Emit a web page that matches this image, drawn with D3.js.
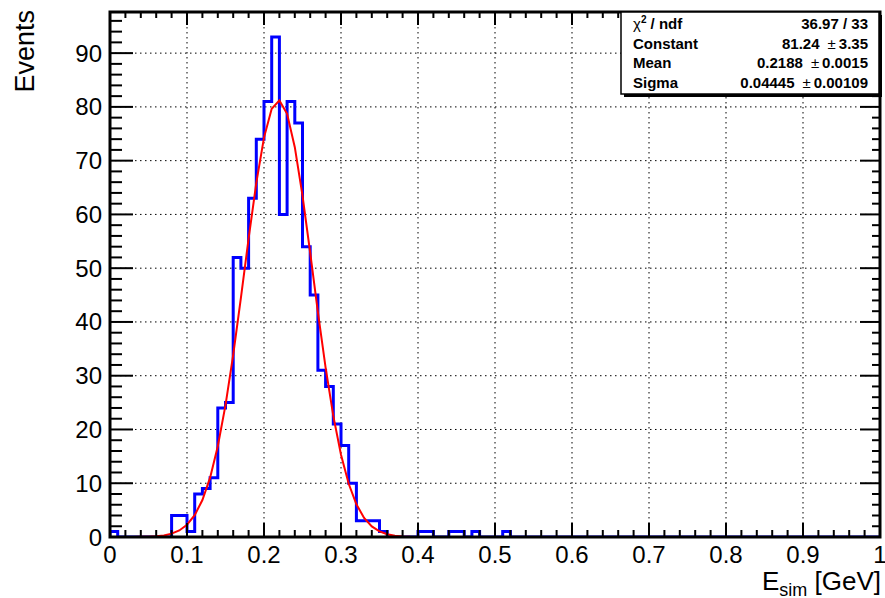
<!DOCTYPE html>
<html lang="en">
<head>
<meta charset="UTF-8">
<title>E_sim histogram</title>
<style>
  body { margin: 0; padding: 0; background: #fff; }
  svg { display: block; }
  text { font-family: "Liberation Sans", Arial, Helvetica, sans-serif; }
</style>
</head>
<body>
<script src="https://cdn.jsdelivr.net/npm/d3@7"></script>
<script>
  // histogram: 100 bins of 0.01 from 0 to 1
  const binEdgesLow = 0, binWidth = 0.01
  const counts = [
    1, 0, 0, 0, 0, 0, 0, 0, 4, 4,
    1, 8, 9, 11, 24, 25, 52, 50, 63, 74,
    81, 93, 60, 81, 77, 54, 45, 31, 28, 21,
    17, 10, 3, 3, 3, 1, 0, 0, 0, 0,
    1, 1, 0, 0, 1, 1, 0, 1, 0, 0,
    0, 1, 0, 0, 0, 0, 0, 0, 0, 0,
    0, 0, 0, 0, 0, 0, 0, 0, 0, 0,
    0, 0, 0, 0, 0, 0, 0, 0, 0, 0,
    0, 0, 0, 0, 0, 0, 0, 0, 0, 0,
    0, 0, 0, 0, 0, 0, 0, 0, 0, 0
  ]

  // gaussian fit result (stats box)
  const fitConstant = 81.24, fitMean = 0.2188, fitSigma = 0.04445
  const statsNames = ['χ2 / ndf', 'Constant', 'Mean', 'Sigma']
  const statsValues = ['36.97 / 33', '81.24', '0.2188', '0.04445']
  const statsErrors = [null, '3.35', '0.0015', '0.00109']

  const xTicks = [0, 0.1, 0.2, 0.3, 0.4, 0.5, 0.6, 0.7, 0.8, 0.9, 1]
  const yTicks = [0, 10, 20, 30, 40, 50, 60, 70, 80, 90]

  const width = 885, height = 598
  const pLeft = 110, pRight = 880, pTop = 12, pBottom = 537

  const svg = d3.select('body').append('svg')
    .attr('width', width).attr('height', height)

  const x = d3.scaleLinear().domain([0, 1]).range([pLeft, pRight])
  const y = d3.scaleLinear().domain([0, d3.max(counts) * 1.05]).range([pBottom, pTop])

  svg.append('clipPath').attr('id', 'clip')
    .append('rect').attr('x', pLeft).attr('y', pTop).attr('width', pRight - pLeft).attr('height', pBottom - pTop)

  // grid
  const grid = svg.append('g').attr('stroke', '#000').attr('stroke-width', 1).attr('stroke-dasharray', '1.5,3.5')
  grid.selectAll('.gx').data(xTicks.slice(1, -1)).enter().append('line')
    .attr('x1', d => x(d)).attr('x2', d => x(d)).attr('y1', pTop).attr('y2', pBottom)
  grid.selectAll('.gy').data(yTicks.slice(1)).enter().append('line')
    .attr('x1', pLeft).attr('x2', pRight).attr('y1', d => y(d)).attr('y2', d => y(d))

  // histogram outline
  const pts = []
  counts.forEach((c, i) => {
    const lo = binEdgesLow + i * binWidth
    pts.push([lo, c], [lo + binWidth, c])
  })
  pts.unshift([0, 0])
  pts.push([1, 0])
  svg.append('path')
    .attr('clip-path', 'url(#clip)')
    .attr('d', d3.line().x(d => x(d[0])).y(d => y(d[1]))(pts))
    .attr('fill', 'none').attr('stroke', '#0000ff').attr('stroke-width', 3)

  // fit curve (100 points, like TF1 default)
  const gaus = v => fitConstant * Math.exp(-0.5 * Math.pow((v - fitMean) / fitSigma, 2))
  const curve = d3.range(0, 101).map(i => [i / 100, gaus(i / 100)])
  svg.append('path')
    .attr('clip-path', 'url(#clip)')
    .attr('d', d3.line().x(d => x(d[0])).y(d => y(d[1]))(curve))
    .attr('fill', 'none').attr('stroke', '#ff0000').attr('stroke-width', 2)

  // axes with ticks on all four sides
  const xMinor = d3.range(0, 51).map(i => i * 0.02)
  const yMinor = d3.range(0, 49).map(i => i * 2)
  const ax = svg.append('g').attr('stroke', '#000')
  ax.selectAll('.bt').data(xMinor).enter().append('line')
    .attr('x1', d => x(d)).attr('x2', d => x(d))
    .attr('y1', pBottom).attr('y2', (d, i) => pBottom - (i % 5 === 0 ? 14 : 7)).attr('stroke-width', 2)
  ax.selectAll('.tt').data(xMinor).enter().append('line')
    .attr('x1', d => x(d)).attr('x2', d => x(d))
    .attr('y1', pTop).attr('y2', (d, i) => pTop + (i % 5 === 0 ? 13 : 6)).attr('stroke-width', 2)
  ax.selectAll('.lt').data(yMinor).enter().append('line')
    .attr('y1', d => y(d)).attr('y2', d => y(d))
    .attr('x1', pLeft).attr('x2', (d, i) => pLeft + (i % 5 === 0 ? 23 : 12)).attr('stroke-width', 2)
  ax.selectAll('.rt').data(yMinor).enter().append('line')
    .attr('y1', d => y(d)).attr('y2', d => y(d))
    .attr('x1', pRight).attr('x2', (d, i) => pRight - (i % 5 === 0 ? 20 : 8)).attr('stroke-width', 2)
  ax.append('rect').attr('x', pLeft).attr('y', pTop).attr('width', pRight - pLeft).attr('height', pBottom - pTop)
    .attr('fill', 'none').attr('stroke-width', 3)

  // tick labels
  svg.selectAll('.xl').data(xTicks).enter().append('text')
    .attr('x', d => x(d)).attr('y', 563).attr('text-anchor', 'middle')
    .attr('font-size', 24).text(d => d3.format('~g')(d))
  svg.selectAll('.yl').data(yTicks).enter().append('text')
    .attr('x', 102).attr('y', d => y(d) + 8.5).attr('text-anchor', 'end')
    .attr('font-size', 24).text(d => d)

  // titles
  const xt = svg.append('text').attr('x', 881).attr('y', 590).attr('text-anchor', 'end').attr('font-size', 26)
  xt.append('tspan').text('E')
  xt.append('tspan').attr('font-size', 18).attr('dy', 6).text('sim')
  xt.append('tspan').attr('dy', -6).text(' [GeV]')
  svg.append('text').attr('transform', 'translate(34,10) rotate(-90)')
    .attr('text-anchor', 'end').attr('font-size', 27).text('Events')

  // stats box
  const bx = 621, by = 12, bw = 258, bh = 82
  svg.append('rect').attr('x', bx + 3).attr('y', by + 3).attr('width', bw).attr('height', bh).attr('fill', '#000')
  svg.append('rect').attr('x', bx).attr('y', by).attr('width', bw).attr('height', bh)
    .attr('fill', '#fff').attr('stroke', '#000').attr('stroke-width', 1.5)
  const rowY = i => by + 17 + i * 19.5
  statsNames.forEach((n, i) => {
    const t = svg.append('text').attr('x', 633).attr('y', rowY(i)).attr('font-size', 15).attr('font-weight', 'bold')
    if (i === 0) {
      t.append('tspan').attr('font-weight', 'normal').text('χ')
      t.append('tspan').attr('font-size', 10).attr('dy', -6).text('2')
      t.append('tspan').attr('dy', 6).text(' / ndf')
    } else t.text(n)
    const v = svg.append('text').attr('x', 868).attr('y', rowY(i)).attr('font-size', 15)
      .attr('font-weight', 'bold').attr('text-anchor', 'end')
    v.append('tspan').text(statsValues[i])
    if (statsErrors[i]) {
      v.append('tspan').attr('dx', 8).attr('font-weight', 'normal').text('±')
      v.append('tspan').attr('dx', 3).text(statsErrors[i])
    }
  })
</script>
</body>
</html>
